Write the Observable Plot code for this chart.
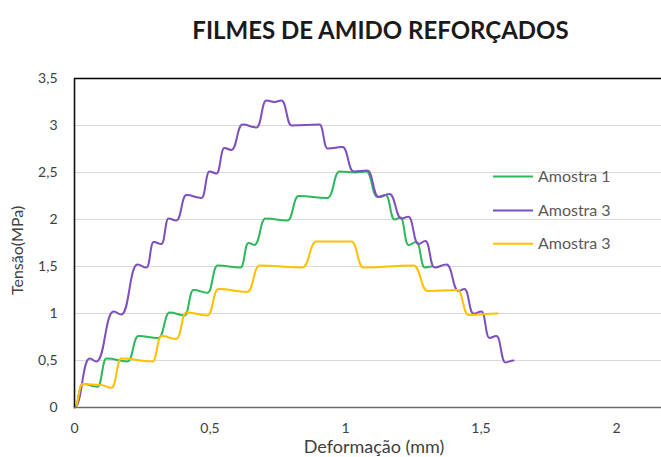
<!DOCTYPE html>
<html>
<head>
<meta charset="utf-8">
<script src="https://cdn.jsdelivr.net/npm/d3@7"></script>
<script src="https://cdn.jsdelivr.net/npm/@observablehq/plot@0.6"></script>
<style>
  html, body { margin: 0; padding: 0; background: #fff; }
  #chart { width: 661px; height: 457px; overflow: hidden; font-family: Lato, "Open Sans", sans-serif; }
  #title { height: 55px; line-height: 60px; text-align: center; font-weight: 700; font-size: 24px;
           color: #1a1a1a; padding-left: 100px; box-sizing: border-box; white-space: nowrap; }
</style>
</head>
<body>
<div id="chart">
  <div id="title">FILMES DE AMIDO REFORÇADOS</div>
</div>
<script>
// Stress–strain readings of the reinforced starch films
const seriesNames = ["Amostra 1", "Amostra 3", "Amostra 3"];
const seriesColors = ["#2eb85c", "#7f4fbf", "#ffc000"];

const amostra1X = [0, 0.030, 0.085, 0.118, 0.196, 0.236, 0.310, 0.351, 0.406, 0.439, 0.491, 0.528, 0.613,
  0.642, 0.664, 0.705, 0.786, 0.827, 0.934, 0.978, 1.037, 1.077, 1.118, 1.148, 1.181, 1.203, 1.232, 1.262, 1.292, 1.317];
const amostra1Y = [0, 0.25, 0.22, 0.52, 0.49, 0.76, 0.74, 1.01, 0.98, 1.25, 1.22, 1.51, 1.49,
  1.75, 1.73, 2.01, 1.99, 2.25, 2.23, 2.51, 2.50, 2.51, 2.24, 2.26, 2.00, 2.02, 1.73, 1.76, 1.49, 1.50];

const amostra3aX = [0, 0.056, 0.081, 0.144, 0.173, 0.232, 0.266, 0.292, 0.321, 0.347, 0.376, 0.413, 0.469,
  0.498, 0.524, 0.553, 0.579, 0.620, 0.672, 0.708, 0.738, 0.764, 0.801, 0.904, 0.934, 0.989, 1.030, 1.081,
  1.122, 1.162, 1.207, 1.232, 1.269, 1.295, 1.328, 1.373, 1.417, 1.439, 1.472, 1.502, 1.531, 1.557, 1.590, 1.620];
const amostra3aY = [0, 0.52, 0.49, 1.02, 0.99, 1.52, 1.49, 1.76, 1.74, 2.01, 1.99, 2.26, 2.23,
  2.51, 2.49, 2.76, 2.74, 3.01, 2.98, 3.265, 3.25, 3.265, 3.00, 3.01, 2.755, 2.77, 2.51, 2.52,
  2.24, 2.27, 2.01, 2.03, 1.74, 1.77, 1.49, 1.52, 1.24, 1.26, 1.00, 1.02, 0.74, 0.76, 0.48, 0.50];

const amostra3bX = [0, 0.030, 0.096, 0.137, 0.173, 0.288, 0.321, 0.376, 0.413, 0.491, 0.531, 0.638,
  0.683, 0.841, 0.893, 1.022, 1.066, 1.251, 1.303, 1.413, 1.454, 1.561];
const amostra3bY = [0, 0.25, 0.24, 0.21, 0.52, 0.49, 0.76, 0.73, 1.01, 0.98, 1.26, 1.23,
  1.51, 1.49, 1.765, 1.765, 1.49, 1.51, 1.24, 1.25, 0.985, 1.00];

const xTicks = [0, 0.5, 1, 1.5, 2];
const yTicks = [0, 0.5, 1, 1.5, 2, 2.5, 3, 3.5];
const gridValues = [0.5, 1, 1.5, 2, 2.5, 3];

const rows = [];
[[amostra1X, amostra1Y], [amostra3aX, amostra3aY], [amostra3bX, amostra3bY]].forEach(([xs, ys], i) => {
  xs.forEach((x, j) => rows.push({serie: i, x, y: ys[j]}));
});

const fmt = d => String(d).replace(".", ",");

// legend placement in data units
const legendX1 = 1.546, legendX2 = 1.694, legendTextX = 1.71;
const legendY = [2.457, 2.095, 1.743];
const legendRows = seriesNames.map((name, i) => ({name, i, y: legendY[i]}));

const plot = Plot.plot({
  width: 661,
  height: 402,
  marginLeft: 74,
  marginRight: 0,
  marginTop: 23,
  marginBottom: 50,
  style: {fontFamily: "Lato, 'Open Sans', sans-serif", background: "white", overflow: "visible"},
  x: {domain: [0, 2.166]},
  y: {domain: [0, 3.5]},
  marks: [
    Plot.ruleY(gridValues, {stroke: "#d9d9d9", strokeWidth: 1}),
    Plot.axisX(xTicks, {tickSize: 0, tickPadding: 16, tickFormat: fmt, fontSize: 14, fill: "#404040", label: null}),
    Plot.axisY(yTicks, {tickSize: 0, tickPadding: 17, tickFormat: fmt, fontSize: 14, fill: "#404040", label: null}),
    Plot.line(rows, {x: "x", y: "y", z: "serie", stroke: d => seriesColors[d.serie], strokeWidth: 2,
      curve: "bump-x"}),
    Plot.ruleY([3.5], {stroke: "#000", strokeWidth: 1.6}),
    Plot.ruleX([0], {stroke: "#111", strokeWidth: 1.6}),
    Plot.ruleY([0], {stroke: "#6b6b6b", strokeWidth: 1.6}),
    Plot.ruleY(legendRows, {y: "y", x1: legendX1, x2: legendX2, stroke: d => seriesColors[d.i], strokeWidth: 2}),
    Plot.text(legendRows, {y: "y", x: legendTextX, text: "name", textAnchor: "start", fontSize: 16,
      fill: "#595959"}),
    Plot.text(["Deformação (mm)"], {frameAnchor: "bottom", dy: 40, dx: 6, fontSize: 18, fill: "#404040",
      lineAnchor: "middle"}),
    Plot.text(["Tensão(MPa)"], {frameAnchor: "left", dx: -57, dy: 52, rotate: -90, fontSize: 16,
      fill: "#404040", lineAnchor: "middle"})
  ]
});
plot.style.color = "#404040";
document.getElementById("chart").appendChild(plot);
</script>
</body>
</html>
